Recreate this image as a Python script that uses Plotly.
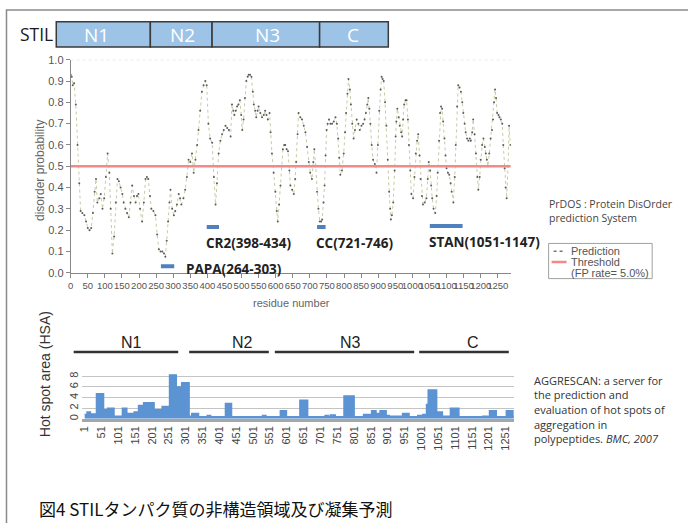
import plotly.graph_objects as go

W, H = 688, 523


def px(x):
    return x / W


def py(y):
    return 1 - y / H


# ---------------- data ----------------
# PrDOS disorder prediction (residue, probability)
pred_res = [0, 3, 6, 10, 15, 20, 25, 29, 34, 40, 45, 50, 55, 60, 65, 70, 74, 78, 84, 88, 93, 98,
            103, 108, 113, 117, 122, 127, 132, 137, 141, 146, 151, 155, 160, 165, 170, 175, 180,
            185, 190, 194, 198, 203, 209, 214, 219, 223, 227, 232, 236, 242, 248, 253, 258, 263,
            268, 273, 277, 281, 285, 289, 292, 297, 302, 306, 311, 316, 320, 324, 330, 335, 340,
            345, 350, 355, 360, 365, 370, 374, 379, 384, 389, 394, 398, 403, 408, 414, 419, 424,
            428, 433, 438, 443, 448, 453, 458, 463, 468, 472, 476, 479, 483, 487, 491, 495, 499,
            502, 506, 510, 514, 518, 521, 525, 529, 533, 536, 540, 543, 547, 550, 555, 560, 565,
            569, 573, 577, 582, 585, 589, 594, 599, 603, 606, 610, 614, 618, 621, 625, 628, 632,
            636, 640, 643, 648, 653, 657, 660, 664, 667, 672, 677, 682, 687, 692, 697, 701, 706,
            710, 713, 717, 721, 725, 729, 733, 736, 740, 743, 746, 749, 752, 756, 760, 765, 770,
            775, 779, 783, 786, 789, 794, 799, 803, 806, 810, 813, 817, 820, 824, 828, 832, 837,
            842, 846, 851, 856, 860, 864, 868, 871, 874, 877, 881, 885, 890, 895, 899, 903, 907,
            910, 913, 916, 920, 924, 928, 932, 935, 937, 940, 944, 948, 951, 953, 956, 960, 963,
            967, 970, 973, 976, 980, 983, 987, 990, 994, 997, 1002, 1006, 1010, 1014, 1017, 1021,
            1024, 1028, 1031, 1036, 1041, 1045, 1048, 1052, 1055, 1058, 1062, 1067, 1071, 1074,
            1078, 1081, 1084, 1087, 1090, 1094, 1097, 1100, 1104, 1108, 1112, 1115, 1120, 1124,
            1127, 1131, 1134, 1138, 1142, 1146, 1149, 1153, 1156, 1160, 1164, 1168, 1171, 1175,
            1178, 1182, 1186, 1190, 1193, 1197, 1200, 1204, 1208, 1212, 1215, 1218, 1221, 1225,
            1229, 1233, 1236, 1239, 1242, 1245, 1248, 1252, 1255, 1259, 1263, 1266, 1270, 1273,
            1276, 1280, 1283, 1287]
pred_val = [0.93, 0.92, 0.88, 0.89, 0.79, 0.60, 0.42, 0.29, 0.28, 0.27, 0.24, 0.21, 0.20, 0.21,
            0.28, 0.38, 0.44, 0.33, 0.35, 0.37, 0.30, 0.35, 0.45, 0.56, 0.47, 0.30, 0.09, 0.17,
            0.33, 0.44, 0.43, 0.40, 0.37, 0.33, 0.30, 0.28, 0.26, 0.33, 0.41, 0.36, 0.33, 0.36,
            0.37, 0.30, 0.24, 0.33, 0.44, 0.45, 0.44, 0.36, 0.30, 0.29, 0.27, 0.18, 0.11, 0.10,
            0.10, 0.09, 0.075, 0.15, 0.24, 0.33, 0.39, 0.30, 0.27, 0.29, 0.32, 0.37, 0.35, 0.32,
            0.35, 0.39, 0.45, 0.53, 0.52, 0.56, 0.47, 0.53, 0.60, 0.67, 0.76, 0.85, 0.88, 0.90,
            0.88, 0.70, 0.63, 0.61, 0.45, 0.32, 0.42, 0.56, 0.62, 0.65, 0.67, 0.69, 0.68, 0.67,
            0.64, 0.79, 0.76, 0.74, 0.76, 0.78, 0.79, 0.81, 0.74, 0.67, 0.72, 0.82, 0.90, 0.92,
            0.93, 0.93, 0.92, 0.85, 0.79, 0.76, 0.73, 0.76, 0.78, 0.75, 0.73, 0.74, 0.76, 0.74,
            0.72, 0.75, 0.66, 0.56, 0.47, 0.38, 0.29, 0.24, 0.32, 0.41, 0.50, 0.58, 0.60, 0.60,
            0.58, 0.57, 0.48, 0.41, 0.39, 0.37, 0.44, 0.52, 0.65, 0.75, 0.73, 0.72, 0.69, 0.66,
            0.59, 0.52, 0.47, 0.44, 0.52, 0.58, 0.50, 0.38, 0.30, 0.24, 0.24, 0.25, 0.33, 0.41,
            0.55, 0.67, 0.70, 0.72, 0.70, 0.70, 0.71, 0.73, 0.70, 0.63, 0.54, 0.46, 0.48, 0.56,
            0.66, 0.75, 0.84, 0.91, 0.86, 0.79, 0.70, 0.63, 0.67, 0.72, 0.70, 0.67, 0.69, 0.70,
            0.72, 0.75, 0.79, 0.82, 0.77, 0.70, 0.60, 0.53, 0.51, 0.47, 0.60, 0.76, 0.86, 0.92,
            0.91, 0.90, 0.80, 0.69, 0.53, 0.38, 0.30, 0.25, 0.27, 0.33, 0.48, 0.64, 0.71, 0.77,
            0.73, 0.69, 0.66, 0.64, 0.72, 0.79, 0.81, 0.81, 0.72, 0.60, 0.48, 0.37, 0.35, 0.45,
            0.56, 0.62, 0.65, 0.55, 0.44, 0.36, 0.32, 0.33, 0.35, 0.44, 0.52, 0.48, 0.41, 0.35,
            0.30, 0.28, 0.36, 0.47, 0.62, 0.75, 0.78, 0.77, 0.71, 0.63, 0.55, 0.49, 0.47, 0.46,
            0.42, 0.38, 0.33, 0.45, 0.60, 0.78, 0.88, 0.87, 0.85, 0.80, 0.75, 0.70, 0.66, 0.63,
            0.62, 0.63, 0.62, 0.66, 0.72, 0.65, 0.56, 0.45, 0.39, 0.45, 0.53, 0.60, 0.63, 0.59,
            0.56, 0.53, 0.50, 0.56, 0.63, 0.67, 0.72, 0.80, 0.86, 0.82, 0.75, 0.74, 0.73, 0.72,
            0.70, 0.60, 0.49, 0.40, 0.35, 0.50, 0.69, 0.60]
THRESHOLD = 0.5

region_names = ["PAPA", "CR2", "CC", "STAN"]
region_start = [264, 398, 721, 1051]
region_end = [303, 434, 746, 1147]

top_x_ticks = list(range(0, 1251, 50))
top_y_ticks = [i / 10 for i in range(11)]

# AGGRESCAN hot spot area: segment start residue and value
hsa_start = [1, 8, 18, 36, 57, 69, 88, 113, 126, 148, 161, 176, 207, 231, 253, 273, 289, 311,
             319, 339, 365, 375, 419, 437, 529, 539, 582, 600, 640, 663, 715, 724, 730, 745,
             771, 784, 787, 801, 829, 849, 853, 866, 878, 896, 905, 945, 964, 990, 1005, 1016,
             1021, 1046, 1063, 1087, 1112, 1183, 1198, 1203, 1223, 1253, 1273]
hsa_val = [0.8, 1.3, 0.9, 4.7, 1.7, 2.0, 0.5, 2.0, 1.0, 1.3, 2.5, 3.0, 1.7, 2.3, 8.3, 6.0, 6.8,
           0.5, 1.0, 0.4, 0.6, 0.4, 2.9, 0.4, 0.6, 0.4, 1.5, 0.4, 3.5, 0.4, 0.6, 0.4, 0.7, 0.4,
           4.3, 0.3, 4.3, 0.4, 0.8, 0.4, 1.5, 1.0, 1.5, 0.6, 0.5, 1.0, 0.4, 0.6, 0.8, 2.7, 5.4,
           1.3, 0.5, 2.0, 0.4, 0.5, 0.4, 1.5, 0.4, 1.5, 0.5]
HSA_LAST = 1287
bottom_x_ticks = list(range(1, 1252, 50))
bottom_y_ticks = [0, 2, 4, 6, 8]

domain_labels = ["N1", "N2", "N3", "C"]

# ---------------- layout constants (pixels) ----------------
HEADER_EDGES = [53.5, 148, 210, 318, 387]
HEADER_TEXT_X = [94, 180, 266, 352]
HEADER_TOP, HEADER_BOT = 16, 42
SEG_LINES = [(71, 176), (187, 267), (273, 413), (418, 508)]
SEG_TEXT_X = [129, 241, 349, 472]
REGION_BAR_Y = [0.03, 0.215, 0.215, 0.22]

FONT = "Liberation Sans, Arial, sans-serif"
OPEN = "Open Sans, sans-serif"
BAR_BLUE = "#4f81bd"
HSA_BLUE = "#5b93d3"

fig = go.Figure()

# prediction series
fig.add_trace(go.Scatter(
    x=pred_res, y=pred_val, mode="lines+markers", name="Prediction",
    line=dict(color="#c9c9a4", width=1, dash="dot"),
    marker=dict(size=2, color="#5a5a5a"),
    xaxis="x", yaxis="y", showlegend=False, hoverinfo="skip"))

# threshold
fig.add_trace(go.Scatter(
    x=[0, 1288], y=[THRESHOLD, THRESHOLD], mode="lines", name="Threshold",
    line=dict(color="#f28a8a", width=2.5), xaxis="x", yaxis="y", showlegend=False,
    hoverinfo="skip"))

# region bars
annotations = []
for name, s, e, yb in zip(region_names, region_start, region_end, REGION_BAR_Y):
    fig.add_trace(go.Scatter(
        x=[s, e], y=[yb, yb], mode="lines", line=dict(color=BAR_BLUE, width=4),
        xaxis="x", yaxis="y", showlegend=False, hoverinfo="skip"))
    label = f"{name}({s}-{e})"
    if name == "PAPA":
        annotations.append(dict(x=e, y=yb, xref="x", yref="y", text=label, showarrow=False,
                                xanchor="left", yanchor="middle", xshift=10, yshift=-3,
                                font=dict(family=OPEN, size=13.5, color="#222", weight="bold")))
    else:
        annotations.append(dict(x=s, y=yb, xref="x", yref="y", text=label, showarrow=False,
                                xanchor="left", yanchor="middle", xshift=-3, yshift=-16,
                                font=dict(family=OPEN, size=13.5, color="#222", weight="bold")))

# hot spot area
fig.add_trace(go.Scatter(
    x=hsa_start + [HSA_LAST], y=hsa_val + [hsa_val[-1]], mode="lines", line_shape="hv",
    fill="tozeroy", fillcolor=HSA_BLUE, line=dict(color=HSA_BLUE, width=1.5),
    xaxis="x2", yaxis="y2", showlegend=False, hoverinfo="skip"))

shapes = []
# outer frame
shapes.append(dict(type="rect", xref="paper", yref="paper", x0=px(3.5), x1=px(700),
                   y0=py(4), y1=py(540), line=dict(color="#8a8a8a", width=1.5)))
# header boxes
for i in range(4):
    shapes.append(dict(type="rect", xref="paper", yref="paper",
                       x0=px(HEADER_EDGES[i]), x1=px(HEADER_EDGES[i + 1]),
                       y0=py(HEADER_BOT), y1=py(HEADER_TOP),
                       fillcolor="#9dc3e6", line=dict(color="#3a3a3a", width=1.5)))
    annotations.append(dict(x=px(HEADER_TEXT_X[i]), y=py(29.5), xref="paper", yref="paper",
                            text=domain_labels[i], showarrow=False, xanchor="center",
                            yanchor="middle", font=dict(family=OPEN, size=19, color="white")))
annotations.append(dict(x=px(15), y=py(29), xref="paper", yref="paper", text="STIL",
                        showarrow=False, xanchor="left", yanchor="middle",
                        font=dict(family=OPEN, size=17.5, color="#1a1a1a")))

# 1.0 dotted gridline
shapes.append(dict(type="line", xref="x domain", yref="y", x0=0, x1=1, y0=1, y1=1,
                   line=dict(color="#cfcfcf", width=1, dash="dot")))

# bottom segment header lines
for i, (a, b) in enumerate(SEG_LINES):
    shapes.append(dict(type="line", xref="paper", yref="paper", x0=px(a), x1=px(b),
                       y0=py(354), y1=py(354), line=dict(color="#333", width=2.5)))
    annotations.append(dict(x=px(SEG_TEXT_X[i]), y=py(344), xref="paper", yref="paper",
                            text=domain_labels[i], showarrow=False, xanchor="center",
                            yanchor="middle", font=dict(family=FONT, size=16, color="#222")))

# legend (manual)
shapes.append(dict(type="rect", xref="paper", yref="paper", x0=px(548), x1=px(652),
                   y0=py(279), y1=py(243), line=dict(color="#a0a0a0", width=1)))
shapes.append(dict(type="line", xref="paper", yref="paper", x0=px(553), x1=px(564),
                   y0=py(251), y1=py(251), line=dict(color="#777", width=1.5, dash="dot")))
shapes.append(dict(type="line", xref="paper", yref="paper", x0=px(551), x1=px(566),
                   y0=py(262), y1=py(262), line=dict(color="#f28a8a", width=2.5)))
for txt, yy in [("Prediction", 251), ("Threshold", 262), ("(FP rate= 5.0%)", 273)]:
    annotations.append(dict(x=px(568), y=py(yy), xref="paper", yref="paper", text=txt,
                            showarrow=False, xanchor="left", yanchor="middle",
                            font=dict(family=FONT, size=11, color="#555")))

# PrDOS note
for txt, yy in [("PrDOS : Protein DisOrder", 203), ("prediction System", 217)]:
    annotations.append(dict(x=px(546), y=py(yy), xref="paper", yref="paper", text=txt,
                            showarrow=False, xanchor="left", yanchor="middle",
                            font=dict(family=OPEN, size=10.5, color="#444")))

# AGGRESCAN note
agg_lines = ["AGGRESCAN: a server for", "the prediction and", "evaluation of hot spots of",
             "aggregation in", "polypeptides. <i>BMC, 2007</i>"]
for i, txt in enumerate(agg_lines):
    annotations.append(dict(x=px(531), y=py(383 + 15 * i), xref="paper", yref="paper",
                            text=txt, showarrow=False, xanchor="left", yanchor="middle",
                            font=dict(family=OPEN, size=11, color="#333")))

# axis titles
annotations.append(dict(x=px(37), y=py(168), xref="paper", yref="paper",
                        text="disorder probability", textangle=-90, showarrow=False,
                        xanchor="center", yanchor="middle",
                        font=dict(family=FONT, size=12, color="#666")))
annotations.append(dict(x=px(290), y=py(304), xref="paper", yref="paper",
                        text="residue number", showarrow=False, xanchor="center",
                        yanchor="middle", font=dict(family=FONT, size=11, color="#666")))
annotations.append(dict(x=px(43), y=py(377), xref="paper", yref="paper",
                        text="Hot spot area (HSA)", textangle=-90, showarrow=False,
                        xanchor="center", yanchor="middle",
                        font=dict(family=FONT, size=14, color="#333")))

# caption
annotations.append(dict(x=px(34), y=py(514), xref="paper", yref="paper",
                        text="図4 STILタンパク質の非構造領域及び凝集予測", showarrow=False,
                        xanchor="left", yanchor="middle",
                        font=dict(family="Noto Sans CJK JP", size=17, color="#111")))

fig.update_layout(
    width=W, height=H, margin=dict(l=0, r=0, t=0, b=0),
    paper_bgcolor="white", plot_bgcolor="rgba(0,0,0,0)",
    showlegend=False, shapes=shapes, annotations=annotations,
    xaxis=dict(domain=[px(68), px(510)], range=[0, 1288], anchor="y",
               tickmode="array", tickvals=top_x_ticks, ticktext=[str(v) for v in top_x_ticks],
               tickangle=0, ticks="outside", ticklen=4, tickcolor="#888",
               showline=True, linecolor="#888", linewidth=1, showgrid=False, zeroline=False,
               tickfont=dict(family=FONT, size=9.5, color="#555"), fixedrange=True),
    yaxis=dict(domain=[py(273), py(55)], range=[0, 1.0], anchor="x",
               tickmode="array", tickvals=top_y_ticks,
               ticktext=[f"{v:.1f}" for v in top_y_ticks],
               ticks="outside", ticklen=4, tickcolor="#888",
               showline=True, linecolor="#888", linewidth=1, showgrid=False, zeroline=False,
               tickfont=dict(family=FONT, size=11, color="#555"), fixedrange=True),
    xaxis2=dict(domain=[px(79), px(513)], range=[-8, 1275], anchor="y2",
                tickmode="array", tickvals=bottom_x_ticks,
                ticktext=[str(v) for v in bottom_x_ticks], tickangle=-90, ticks="",
                showline=True, linecolor="#a6a6a6", linewidth=3, showgrid=False,
                zeroline=False, tickfont=dict(family=FONT, size=11, color="#444"),
                fixedrange=True),
    yaxis2=dict(domain=[py(422.5), py(377)], range=[0, 8.37], anchor="x2",
                tickmode="array", tickvals=bottom_y_ticks,
                ticktext=[str(v) for v in bottom_y_ticks], tickangle=-90, ticks="",
                showline=False, showgrid=True, gridcolor="#c4c4c4", gridwidth=1,
                zeroline=False, tickfont=dict(family=FONT, size=11, color="#444"),
                fixedrange=True),
)

fig.write_html("out.html", config={"displayModeBar": False},
               post_script="document.body.style.margin='0';document.body.style.overflow='hidden';")
